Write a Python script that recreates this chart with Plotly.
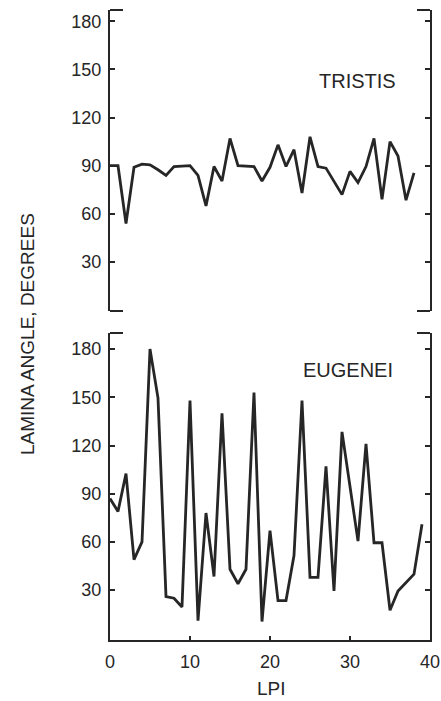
import plotly.graph_objects as go
from plotly.subplots import make_subplots

# ---- data ----
tristis_lpi = [0, 1, 2, 3, 4, 5, 6, 7, 8, 10, 11, 12, 13, 14, 15, 16,
               18, 19, 20, 21, 22, 23, 24, 25, 26, 27,
               29, 30, 31, 32, 33, 34, 35, 36, 37, 38]
tristis_angle = [90, 90, 54, 89, 91, 90.5, 87.5, 84, 89.5, 90, 84, 65, 89.5, 80.5, 107, 90,
                 89.5, 80.5, 89, 103, 89.5, 100, 73, 108, 89.5, 88.5,
                 72, 86.5, 79.5, 89.5, 107, 69, 105, 96, 68.5, 85.5]

eugenei_lpi = [0, 1, 2, 3, 4, 5, 6, 7, 8, 9, 10, 11, 12, 13, 14, 15, 16, 17, 18, 19,
               20, 21, 22, 23, 24, 25, 26, 27, 28, 29, 31, 32, 33, 34, 35, 36, 38, 39]
eugenei_angle = [87, 79, 102.5, 49, 60, 180, 149.5, 26, 25, 19.5, 148, 11, 78, 38.5, 140, 43, 34, 43, 153, 10.5,
                 67, 23.5, 23.5, 51.5, 148, 38, 38, 107, 29.5, 128.5, 60.5, 121, 59.5, 59.5, 17.5, 29.5, 40, 71]

y_ticks = [30, 60, 90, 120, 150, 180]
x_ticks = [0, 10, 20, 30, 40]
panel_labels = ["TRISTIS", "EUGENEI"]
y_title = "LAMINA ANGLE, DEGREES"
x_title = "LPI"

INK = "#262626"
FONT = "Liberation Sans, Arial, sans-serif"

fig = make_subplots(rows=2, cols=1, shared_xaxes=False, vertical_spacing=0.035)

fig.add_trace(go.Scatter(x=tristis_lpi, y=tristis_angle, mode="lines",
                         line=dict(color=INK, width=2.8), showlegend=False), row=1, col=1)
fig.add_trace(go.Scatter(x=eugenei_lpi, y=eugenei_angle, mode="lines",
                         line=dict(color=INK, width=2.8), showlegend=False), row=2, col=1)

W, H = 441, 701
ml, mr, mt, mb = 110, 11, 10, 61
pw = W - ml - mr
ph = H - mt - mb  # 630
top_dom = [1 - 301 / ph, 1.0]
bot_dom = [0.0, (640 - 333) / ph]

common_y = dict(tickvals=y_ticks, ticks="inside", ticklen=5, tickwidth=1.6, tickcolor=INK,
                showline=True, linecolor=INK, linewidth=2, mirror="ticks",
                showgrid=False, zeroline=False,
                tickfont=dict(family=FONT, size=18, color=INK), ticklabelstandoff=3)

fig.update_layout(
    width=W, height=H,
    margin=dict(l=ml, r=mr, t=mt, b=mb, autoexpand=False),
    paper_bgcolor="white", plot_bgcolor="white",
    xaxis=dict(domain=[0, 1], range=[0, 40], showline=False, showticklabels=False,
               ticks="", showgrid=False, zeroline=False),
    xaxis2=dict(domain=[0, 1], range=[0, 40], tickvals=x_ticks, ticks="inside", ticklen=4,
                tickwidth=1.6, tickcolor=INK, showline=True, linecolor=INK, linewidth=2,
                showgrid=False, zeroline=False,
                tickfont=dict(family=FONT, size=18, color=INK), ticklabelstandoff=4),
    yaxis=dict(domain=top_dom, range=[-0.5, 187], **common_y),
    yaxis2=dict(domain=bot_dom, range=[-1, 190], **common_y),
)

# corner caps of the bracket-style frames
cap = 13 / pw
caps = []
for yref, ys in (("y domain", [0, 1]), ("y2 domain", [1])):
    for yy in ys:
        caps.append(dict(type="line", xref="x domain", yref=yref, x0=0, x1=cap, y0=yy, y1=yy))
        caps.append(dict(type="line", xref="x domain", yref=yref, x0=1 - cap, x1=1, y0=yy, y1=yy))
for c in caps:
    c["line"] = dict(color=INK, width=2)
fig.update_layout(shapes=caps)


def px(xp, yp):
    return (xp - ml) / pw, 1 - (yp - mt) / ph


ann_list = []
for text, (xp, yp) in zip(panel_labels, [(357, 81), (348, 370)]):
    ax, ay = px(xp, yp)
    ann_list.append(dict(text=text, xref="paper", yref="paper", x=ax, y=ay,
                         showarrow=False, xanchor="center", yanchor="middle",
                         font=dict(family=FONT, size=20, color=INK)))
ax, ay = px(28, 334)
ann_list.append(dict(text=y_title, xref="paper", yref="paper", x=ax, y=ay, textangle=-90,
                     showarrow=False, xanchor="center", yanchor="middle",
                     font=dict(family=FONT, size=19, color=INK)))
ax, ay = px(271, 688)
ann_list.append(dict(text=x_title, xref="paper", yref="paper", x=ax, y=ay,
                     showarrow=False, xanchor="center", yanchor="middle",
                     font=dict(family=FONT, size=19, color=INK)))
fig.update_layout(annotations=ann_list)

fig.write_html("out.html", config={"displayModeBar": False},
               post_script="document.body.style.margin='0px';")
